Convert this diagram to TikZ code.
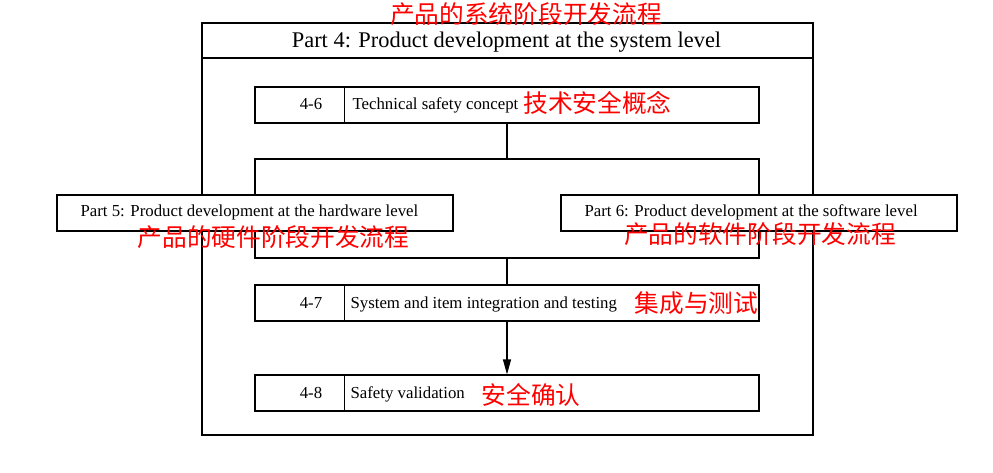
\documentclass[tikz,border=0pt]{standalone}
\usepackage{fontspec}
\setmainfont{Liberation Serif}
\newfontfamily\cjk{Noto Sans CJK SC}
\usetikzlibrary{arrows.meta}
\begin{document}
\begin{tikzpicture}[x=1pt,y=-1pt,line width=1.1pt,
  frame/.style={draw,inner sep=0pt},
  box/.style={draw,fill=white,inner sep=0pt,minimum height=36pt},
  lbl/.style={inner sep=0pt,font=\fontsize{16.8}{18}\selectfont},
  zh/.style={inner sep=0pt,text=red,font=\cjk\fontsize{24.7}{26}\selectfont}]
\useasboundingbox (0,0) rectangle (993,473);
% system level frame
\node[frame,minimum width=611pt,minimum height=412pt] (sys) at (507.5,229) {};
\node[frame,minimum width=611pt,minimum height=35pt] (systitle) at (507.5,40.5) {};
\node[inner sep=0pt,anchor=base,font=\fontsize{22.4}{24}\selectfont] (systitletext) at (506.5,47.3) {Part 4: Product development at the system level};
\node[zh] (zhsys) at (526,14) {产品的系统阶段开发流程};
% 4-6
\node[box,minimum width=504pt] (b46) at (507,105) {};
\draw ([xshift=90pt]b46.north west) -- ([xshift=90pt]b46.south west);
\node[lbl,anchor=base] (n46) at (311,110) {4-6};
\node[lbl,anchor=base west] (t46) at (352,110) {Technical safety concept};
\node[zh] (zh46) at (597.5,103) {技术安全概念};
% hardware / software frame
\node[frame,minimum width=504pt,minimum height=99pt] (hwsw) at (507,208.5) {};
\node[box,minimum width=396pt] (p5) at (255,213) {};
\node[box,minimum width=396pt] (p6) at (759,213) {};
\node[lbl,anchor=base west] (t5) at (80,217) {Part 5: Product development at the hardware level};
\node[lbl,anchor=base west] (t6) at (584,217) {Part 6: Product development at the software level};
\node[zh] (zh5) at (273.5,237) {产品的硬件阶段开发流程};
\node[zh] (zh6) at (760,234) {产品的软件阶段开发流程};
% 4-7
\node[box,minimum width=504pt] (b47) at (507,303) {};
\draw ([xshift=90pt]b47.north west) -- ([xshift=90pt]b47.south west);
\node[lbl,anchor=base] (n47) at (311,308) {4-7};
\node[lbl,anchor=base west] (t47) at (350,308) {System and item integration and testing};
\node[zh] (zh47) at (696.5,303) {集成与测试};
% 4-8
\node[box,minimum width=504pt] (b48) at (507,393) {};
\draw ([xshift=90pt]b48.north west) -- ([xshift=90pt]b48.south west);
\node[lbl,anchor=base] (n48) at (311,398) {4-8};
\node[lbl,anchor=base west] (t48) at (350,398) {Safety validation};
\node[zh] (zh48) at (531,395) {安全确认};
% connectors
\draw (b46.south) -- (hwsw.north);
\draw (hwsw.south) -- (b47.north);
\draw[-{Triangle[length=15pt,width=8pt]}] (b47.south) -- (b48.north);
\end{tikzpicture}
\end{document}
